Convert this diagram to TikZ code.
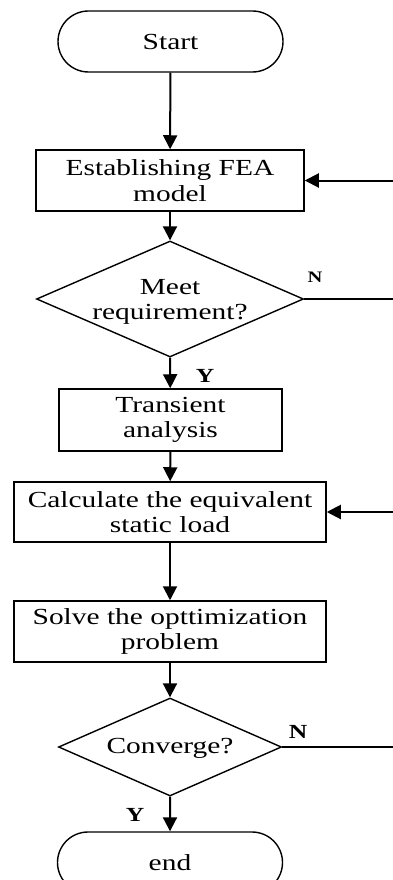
\documentclass[tikz,border=0pt]{standalone}
\usepackage{fontspec}
\setmainfont{Liberation Serif}[FakeStretch=1.28]
\usetikzlibrary{shapes.geometric,shapes.misc,arrows.meta}

\begin{document}
\begin{tikzpicture}[x=1pt,y=-1pt,
  every node/.style={font=\fontsize{23}{25.5}\selectfont},
  terminal/.style={draw, line width=1.4pt, rounded rectangle, inner sep=0pt,
    minimum width=225pt, minimum height=61pt},
  process/.style={draw, line width=1.5pt, rectangle, inner sep=0pt, align=center},
  decision/.style={draw, line width=1.4pt, diamond, inner sep=0pt},
  flow/.style={line width=2pt, -{Triangle[length=14pt,width=14pt]}},
  plain/.style={line width=1.8pt},
  yn/.style={font=\fontsize{20}{22}\selectfont\bfseries, inner sep=0pt}
]
  % page frame
  \useasboundingbox (0,0) rectangle (393,880);
  \clip (0,0) rectangle (393,880);

  % blocks
  \node[terminal] (start) at (170.5,41.5) {Start};
  \node[process, minimum width=268pt, minimum height=61pt] (fea) at (170,180.5)
    {Establishing FEA\\model};
  \node[decision, minimum width=267pt, minimum height=116pt] (meet) at (170,299) {};
  \node[align=center, inner sep=0pt] (meettxt) at (170,302) {Meet\\requirement?};
  \node[process, minimum width=223pt, minimum height=62pt] (trans) at (170.5,420)
    {Transient\\analysis};
  \node[process, minimum width=312pt, minimum height=60pt] (calc) at (170,512)
    {Calculate the equivalent\\static load};
  \node[process, minimum width=312pt, minimum height=61pt] (solve) at (170,631.5)
    {Solve the opttimization\\problem};
  \node[decision, minimum width=223pt, minimum height=98pt] (conv) at (170,747) {};
  \node[inner sep=0pt] (convtxt) at (170,748) {Converge?};
  \node[terminal] (stop) at (170,862.5) {end};

  % feedback ends at the right border
  \coordinate (r1) at (393,180.5);
  \coordinate (r2) at (393,299);
  \coordinate (r3) at (393,512);
  \coordinate (r4) at (393,747);

  % connectors
  \draw[flow] (start) -- (fea);
  \draw[flow] (r1) -- (fea.east);
  \draw[flow] (fea) -- (meet.north);
  \draw[plain] (meet.east) -- (r2);
  \draw[flow] (meet.south) -- (trans);
  \draw[flow] (trans) -- (calc);
  \draw[flow] (r3) -- (calc.east);
  \draw[flow] (calc) -- (solve);
  \draw[flow] (solve) -- (conv.north);
  \draw[plain] (conv.east) -- (r4);
  \draw[flow] (conv.south) -- (stop);

  % branch labels
  \node[yn, font=\fontsize{16}{18}\selectfont\bfseries] (n1) at (315,277) {N};
  \node[yn] (y1) at (205,376) {Y};
  \node[yn] (n2) at (298,732) {N};
  \node[yn] (y2) at (135,815) {Y};
\end{tikzpicture}
\end{document}
